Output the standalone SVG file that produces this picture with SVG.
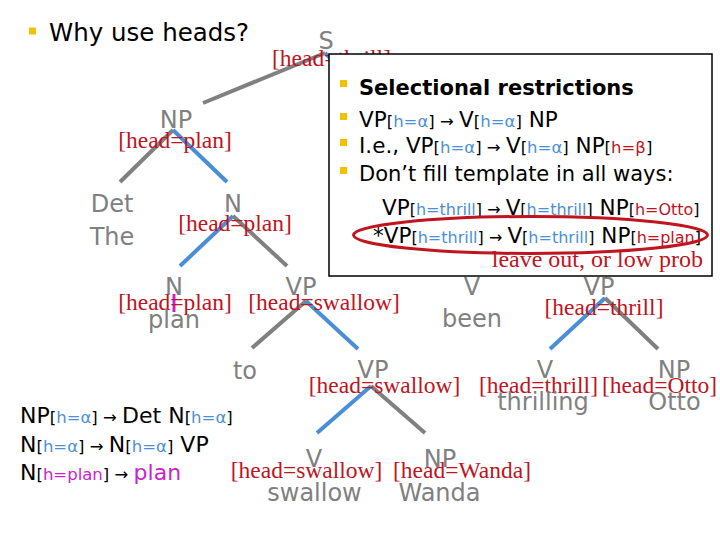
<svg xmlns="http://www.w3.org/2000/svg" width="720" height="540" viewBox="0 0 720 540">
<style>
.g{font-family:"DejaVu Sans",sans-serif;font-size:24px;fill:#808080;text-anchor:middle}
.r{font-family:"Liberation Serif",serif;font-size:23.5px;fill:#c0141e;text-anchor:middle}
.t{font-family:"DejaVu Sans",sans-serif;font-size:21.5px;fill:#000}
.sm{font-size:16.5px}
.sm16{font-size:16px}
.bl{fill:#4a90d9}
.rd{fill:#c0141e}
.mg{fill:#cc22cc}
.lg{stroke:#808080;stroke-width:4;fill:none}
.lb{stroke:#4a8ed8;stroke-width:4;fill:none}
.bul{fill:#f2c200}
</style>
<rect width="720" height="540" fill="#fff"/>
<g id="title">
<rect class="bul" x="29" y="27.5" width="7" height="7"/>
<text x="49" y="41" style="font-family:'DejaVu Sans',sans-serif;font-size:24.5px;fill:#000">Why use heads?</text>
</g>
<g id="connectors">
<line class="lg" x1="325" y1="53" x2="203" y2="103"/>
<line class="lb" x1="325" y1="53" x2="470" y2="190"/>
<line class="lg" x1="173" y1="130" x2="120" y2="182"/>
<line class="lb" x1="173" y1="130" x2="227" y2="182"/>
<line class="lb" x1="233" y1="216" x2="180" y2="266"/>
<line class="lg" x1="233" y1="216" x2="287" y2="266"/>
<line x1="174" y1="294" x2="174" y2="312" stroke="#cc22cc" stroke-width="3"/>
<line class="lg" x1="306" y1="301" x2="252" y2="348"/>
<line class="lb" x1="306" y1="301" x2="358" y2="349"/>
<line class="lb" x1="605" y1="298" x2="550" y2="349"/>
<line class="lg" x1="605" y1="298" x2="658" y2="349"/>
<line class="lb" x1="371" y1="386" x2="317" y2="433"/>
<line class="lg" x1="371" y1="386" x2="425" y2="433"/>
</g>
<g id="S"><text class="g" x="326" y="49">S</text><text class="r" x="331.5" y="66">[head=thrill]</text></g>
<g id="NP"><text class="g" x="176" y="128">NP</text><text class="r" x="175" y="148">[head=plan]</text></g>
<g id="Det"><text class="g" x="112" y="212">Det</text><text class="g" x="112" y="245">The</text></g>
<g id="N1"><text class="g" x="233" y="212">N</text><text class="r" x="235" y="231">[head=plan]</text></g>
<g id="N2"><text class="g" x="174" y="295">N</text><text class="r" x="175" y="310">[head=plan]</text><text class="g" x="174" y="328">plan</text></g>
<g id="VP1"><text class="g" x="301" y="295">VP</text><text class="r" x="324" y="310">[head=swallow]</text></g>
<g id="to"><text class="g" x="245" y="379">to</text></g>
<g id="Vbeen"><text class="g" x="472" y="295">V</text><text class="g" x="472" y="327">been</text></g>
<g id="VPthrill"><text class="g" x="599" y="295">VP</text><text class="r" x="604" y="315">[head=thrill]</text></g>
<g id="VP2"><text class="g" x="373" y="378">VP</text><text class="r" x="384.5" y="393">[head=swallow]</text></g>
<g id="Vthrill"><text class="g" x="545" y="378">V</text><text class="r" x="538.5" y="393">[head=thrill]</text><text class="g" x="543" y="410">thrilling</text></g>
<g id="NPotto"><text class="g" x="674" y="378">NP</text><text class="r" x="659.5" y="393">[head=Otto]</text><text class="g" x="674.5" y="410">Otto</text></g>
<g id="Vswallow"><text class="g" x="314" y="467">V</text><text class="r" x="306.5" y="478">[head=swallow]</text><text class="g" x="314.5" y="501">swallow</text></g>
<g id="NPwanda"><text class="g" x="440" y="467">NP</text><text class="r" x="462" y="478">[head=Wanda]</text><text class="g" x="439.5" y="501">Wanda</text></g>
<g id="box">
<rect x="329" y="54" width="383" height="222" fill="#fff" stroke="#000" stroke-width="1.5"/>
<rect class="bul" x="340" y="80" width="7" height="7"/>
<rect class="bul" x="340" y="113" width="7" height="7"/>
<rect class="bul" x="340" y="139" width="7" height="7"/>
<rect class="bul" x="340" y="167" width="7" height="7"/>
<text class="t" x="359" y="95" style="font-weight:bold;font-size:21px">Selectional restrictions</text>
<text class="t" x="359" y="127">VP<tspan class="sm">[<tspan class="bl">h=α</tspan>] → </tspan>V<tspan class="sm">[<tspan class="bl">h=α</tspan>]</tspan> NP</text>
<text class="t" x="359" y="153">I.e., VP<tspan class="sm">[<tspan class="bl">h=α</tspan>] → </tspan>V<tspan class="sm">[<tspan class="bl">h=α</tspan>]</tspan> NP<tspan class="sm">[<tspan class="rd">h=β</tspan>]</tspan></text>
<text class="t" x="359" y="181" style="font-size:21px">Don’t fill template in all ways:</text>
<text class="t" x="382" y="215">VP<tspan class="sm16">[<tspan class="bl">h=thrill</tspan>] → </tspan>V<tspan class="sm16">[<tspan class="bl">h=thrill</tspan>]</tspan> NP<tspan class="sm16">[<tspan class="rd">h=Otto</tspan>]</tspan></text>
<text class="t" x="373" y="243">*VP<tspan class="sm16">[<tspan class="bl">h=thrill</tspan>] → </tspan>V<tspan class="sm16">[<tspan class="bl">h=thrill</tspan>]</tspan> NP<tspan class="sm16">[<tspan class="rd">h=plan</tspan>]</tspan></text>
<ellipse cx="530.5" cy="235" rx="177" ry="18.5" fill="none" stroke="#c0141e" stroke-width="3"/>
<text x="703" y="267" style="font-family:'Liberation Serif',serif;font-size:24px;fill:#c0141e;text-anchor:end">leave out, or low prob</text>
</g>
<g id="rules">
<text class="t" x="20" y="423" style="font-size:22px">NP<tspan class="sm">[<tspan class="bl">h=α</tspan>] → </tspan>Det N<tspan class="sm">[<tspan class="bl">h=α</tspan>]</tspan></text>
<text class="t" x="20" y="452" style="font-size:22px">N<tspan class="sm">[<tspan class="bl">h=α</tspan>] → </tspan>N<tspan class="sm">[<tspan class="bl">h=α</tspan>]</tspan> VP</text>
<text class="t" x="20" y="480" style="font-size:22px">N<tspan class="sm">[<tspan class="mg">h=plan</tspan>] → </tspan><tspan class="mg">plan</tspan></text>
</g>
</svg>
